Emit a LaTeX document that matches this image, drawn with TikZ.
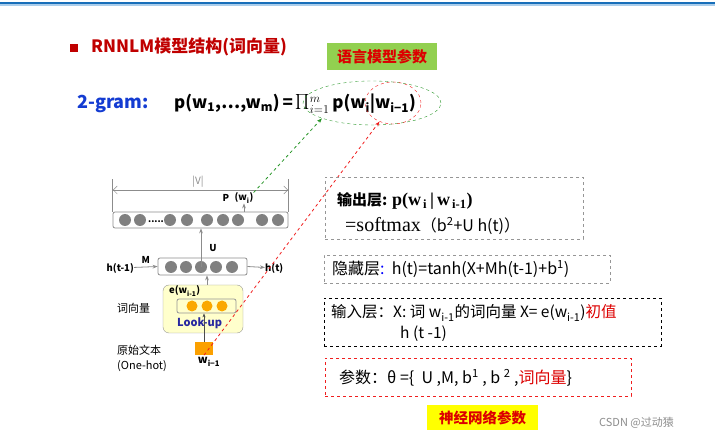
\documentclass[tikz,border=0pt]{standalone}
\usepackage{fontspec}
\setmainfont{Noto Sans CJK SC}
\newfontfamily\serifrm{Liberation Serif}
\usetikzlibrary{shapes.geometric,arrows.meta}

\definecolor{topblue}{RGB}{23,110,185}
\definecolor{paleblue}{RGB}{170,205,235}
\definecolor{titlered}{RGB}{192,0,0}
\definecolor{gramblue}{RGB}{20,60,210}
\definecolor{lookblue}{RGB}{40,40,160}
\definecolor{lmgreen}{RGB}{146,208,80}
\definecolor{nnyellow}{RGB}{255,255,0}
\definecolor{embfill}{RGB}{255,255,204}
\definecolor{embgold}{RGB}{250,168,0}
\definecolor{dotgray}{RGB}{128,128,128}
\definecolor{linegray}{RGB}{140,140,140}
\definecolor{notegray}{RGB}{150,150,150}
\definecolor{txtred}{RGB}{220,0,0}
\definecolor{arrgreen}{RGB}{40,150,40}
\definecolor{arrred}{RGB}{240,30,30}

\begin{document}
\begin{tikzpicture}[x=1pt,y=-1pt,
    every node/.style={inner sep=0pt},
    dot/.style={circle,fill=dotgray,minimum size=12pt},
    odot/.style={circle,fill=embgold,minimum size=11pt},
    layerbox/.style={draw=linegray,thick,rounded corners=2pt},
    notebox/.style={draw=notegray,dashed,thick},
    grayarrow/.style={draw=linegray,thick,-{Stealth[length=5pt]}},
    netlbl/.style={font=\bfseries\fontsize{9.5}{10}\selectfont},
    sidelbl/.style={anchor=west,font=\fontsize{11}{12}\selectfont},
    boxtxt/.style={anchor=west,font=\fontsize{16}{18}\selectfont}]
\useasboundingbox (0,0) rectangle (715,438);

% top rule
\fill[topblue] (0,2) rectangle (715,4.5);
\fill[paleblue] (0,4.5) rectangle (715,6.5);

% title
\node[fill=titlered,minimum size=8pt] (bullet) at (74,48) {};
\node[anchor=west,text=titlered,font=\bfseries\fontsize{17}{18}\selectfont] (title) at (91,47) {RNNLM模型结构(词向量)};
\node[fill=lmgreen,minimum width=110pt,minimum height=27pt,text=txtred,font=\bfseries\fontsize{15}{16}\selectfont] (lmpar) at (382,57) {语言模型参数};

% 2-gram formula
\node[anchor=west,text=gramblue,font=\bfseries\fontsize{18}{20}\selectfont] (gram) at (77,104) {2-gram:};
\node[anchor=west,font=\bfseries\fontsize{17}{20}\selectfont] (formula) at (174,104)
  {p(w\textsubscript{1},…,w\textsubscript{m})\,=\,\scalebox{1.5}{$\prod$}${}_{i=1}^{m}$\,p(w\textsubscript{i}|w\textsubscript{i−1})};
\node[draw=arrgreen,dashed,ellipse,minimum width=138pt,minimum height=44pt] (lmell) at (372,103) {};
\node[draw=arrred,dashed,ellipse,minimum width=56pt,minimum height=42pt] (condell) at (393,103) {};

% output layer
\node[layerbox,minimum width=175pt,minimum height=16pt] (outl) at (200.5,220) {};
\foreach \i/\x in {1/125,2/140,3/170,4/187,5/207,6/223,7/238,8/262,9/278}
  \node[dot] (o\i) at (\x,220) {};
\node[font=\bfseries\fontsize{9}{10}\selectfont] (odots) at (156,222) {.....};
\draw[linegray] (outl.north west) -- ++(0,-33);
\draw[linegray] (outl.north east) -- ++(0,-33);
\coordinate (vl) at (113,190);
\coordinate (vr) at (288,190);
\draw[linegray,{Straight Barb[length=4pt]}-{Straight Barb[length=4pt]}] (vl) -- (vr);
\node[text=linegray,font=\fontsize{10}{12}\selectfont] (vlbl) at (198,182) {|V|};
\node[netlbl] (plbl) at (226,198) {P};
\node[netlbl] (wi) at (244,198) {(w\textsubscript{i})};
\draw[grayarrow] (outl.north -| wi.south) -- (wi.south);

% hidden layer
\node[layerbox,minimum width=89pt,minimum height=17pt] (hidl) at (202.5,266.5) {};
\foreach \i/\x in {1/171,2/186,3/201,4/216,5/232}
  \node[dot] (h\i) at (\x,267) {};
\node[netlbl,anchor=east] (htm) at (134,268) {h(t-1)};
\node[netlbl,anchor=west] (ht) at (265,268) {h(t)};
\draw[grayarrow] (htm) -- (hidl.west) node[midway,above=3pt,netlbl,text=black] (mlbl) {M};
\draw[grayarrow] (hidl.east) -- (ht);
\draw[grayarrow] (h3.center) -- (h3.center |- outl.south) node[midway,right=8pt,netlbl] (ulbl) {U};

% embedding
\node[draw=notegray,fill=embfill,rounded corners=6pt,minimum width=80pt,minimum height=48pt] (embl) at (203,309) {};
\node[netlbl,anchor=west] (ewl) at (169,291) {e(w\textsubscript{i-1})};
\node[draw=notegray,thick,rounded corners=2pt,minimum width=59pt,minimum height=14pt] (inner) at (206.5,306) {};
\foreach \i/\x in {1/192,2/207,3/222}
  \node[odot] (e\i) at (\x,306) {};
\node[anchor=west,text=lookblue,font=\bfseries\fontsize{11}{12}\selectfont] (look) at (177,323) {Look-up};
\draw[grayarrow] (embl.north -| e2.center) -- (e2.center |- hidl.south);
\node[fill=embgold!80!orange,minimum width=18pt,minimum height=13pt] (wsq) at (204,348.5) {};
\draw[-{Stealth[length=4pt]},thick,black!70] (wsq.north) -- (wsq.north |- inner.south);
\node[font=\bfseries\fontsize{11}{12}\selectfont] (wim) at (209,362) {w\textsubscript{i−1}};
\node[sidelbl] (cxl) at (117,308) {词向量};
\node[sidelbl] (ywl) at (117,350) {原始文本};
\node[sidelbl] (ohl) at (117,366) {(One-hot)};

% links to the formula
\draw[arrgreen,dashed,thick,-{Stealth[length=5pt]}] (wi.north east) -- (lmell.197);
\draw[arrred,dashed,thick,-{Stealth[length=5pt]}] (wsq.south) -- (condell.234);

% notes
\node[notebox,minimum width=258pt,minimum height=62pt] (outbox) at (454,208) {};
\node[boxtxt,font=\bfseries\fontsize{15}{18}\selectfont] (outt1) at (337,201)
  {输出层: {\serifrm\fontsize{18}{18}\selectfont p(w\textsubscript{\,i}\,|\,w\textsubscript{\,i-1})}};
\node[boxtxt] (outt2) at (345,226) {{\serifrm\fontsize{20}{20}\selectfont =softmax}（b\textsuperscript{2}+U h(t)）};

\node[notebox,minimum width=286pt,minimum height=28pt] (hidbox) at (467,269) {};
\node[boxtxt] (hidt) at (332,269) {隐藏层{\color{blue}:}\ \ h(t)=tanh(X+Mh(t-1)+b\textsuperscript{1})};

\node[draw,dashed,thick,minimum width=337pt,minimum height=48pt] (inbox) at (492.5,322) {};
\node[boxtxt,font=\fontsize{15.5}{18}\selectfont] (int1) at (331,313) {输入层：X: 词 w\textsubscript{i-1}的词向量 X= e(w\textsubscript{i-1}){\color{txtred}初值}};
\node[boxtxt,font=\fontsize{15.5}{18}\selectfont] (int2) at (400,334) {h (t -1)};

\node[draw=arrred,dashed,thick,minimum width=306pt,minimum height=38pt] (parbox) at (478,377) {};
\node[boxtxt] (part) at (339,378) {参数：θ =\{\ \ U ,M, b\textsuperscript{1} , b \textsuperscript{2} ,{\color{txtred}词向量}\}};

\node[fill=nnyellow,minimum width=111pt,minimum height=25pt,text=txtred,font=\bfseries\fontsize{14.5}{16}\selectfont] (nnpar) at (482.5,417.5) {神经网络参数};

\node[anchor=west,text=black!45,font=\fontsize{11}{13}\selectfont] (csdn) at (599,423) {CSDN @过动猿};
\end{tikzpicture}
\end{document}
